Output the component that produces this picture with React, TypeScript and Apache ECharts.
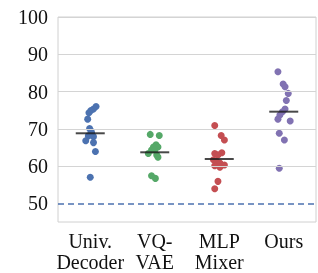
import React, { useEffect, useRef } from "react";
import * as echarts from "echarts";

const categories = ["Univ.\nDecoder", "VQ-\nVAE", "MLP\nMixer", "Ours"];
const colors = ["#4C72B0", "#55A868", "#C44E52", "#8172B2"];

// values per group and horizontal jitter (category units)
const univValues = [76.0, 75.3, 74.9, 74.3, 72.6, 70.1, 69.5, 69.0, 68.1, 67.9, 66.8, 66.3, 63.9, 57.0];
const univJitter = [0.09, 0.05, 0.01, -0.02, -0.04, -0.01, 0.01, 0.02, -0.03, 0.05, -0.07, 0.05, 0.08, 0];
const vqValues = [68.5, 68.2, 65.7, 65.1, 65.1, 64.3, 64.3, 63.4, 63.0, 62.4, 57.4, 56.7];
const vqJitter = [-0.07, 0.07, 0.02, -0.02, 0.05, -0.05, 0, -0.1, 0.03, 0.05, -0.05, 0.01];
const mlpValues = [70.9, 68.2, 67.0, 63.4, 63.6, 63.0, 61.7, 61.2, 60.8, 60.3, 60.1, 59.7, 55.9, 53.9];
const mlpJitter = [-0.07, 0.03, 0.08, -0.07, 0.04, -0.02, -0.09, -0.04, 0.01, 0.08, -0.07, 0.01, -0.02, -0.07];
const oursValues = [85.3, 82.0, 81.3, 79.5, 77.6, 75.3, 74.6, 73.7, 72.6, 72.1, 68.8, 67.0, 59.4];
const oursJitter = [-0.09, -0.01, 0.02, 0.07, 0.04, 0.02, -0.02, -0.06, -0.09, 0.1, -0.07, 0.01, -0.07];

const means = [68.8, 63.7, 61.9, 74.6];
const yTicks = [50, 60, 70, 80, 90, 100];
const gridLines = [60, 70, 80, 90, 100];
const chanceLevel = 50;

const groups = [
  { values: univValues, jitter: univJitter },
  { values: vqValues, jitter: vqJitter },
  { values: mlpValues, jitter: mlpJitter },
  { values: oursValues, jitter: oursJitter },
];

const FONT = "'Liberation Serif', 'Times New Roman', serif";

export default function App() {
  const ref = useRef<HTMLDivElement>(null);
  useEffect(() => {
    if (!ref.current) return;
    const chart = echarts.init(ref.current, undefined, { renderer: "svg" });
    const scatterSeries: any[] = groups.map((g, i) => ({
      type: "scatter",
      xAxisIndex: 1,
      symbol: "circle",
      symbolSize: 7,
      itemStyle: { color: colors[i], opacity: 1 },
      z: 3,
      data: g.values.map((v, k) => [i + g.jitter[k], v]),
    }));
    chart.setOption({
      animation: false,
      grid: {
        left: 58,
        right: 2,
        top: 17,
        bottom: 51,
        show: true,
        borderColor: "#d0d0d0",
        borderWidth: 1,
      },
      xAxis: [
        {
          type: "category",
          data: categories,
          boundaryGap: true,
          axisLine: { show: false },
          axisTick: { show: false },
          splitLine: { show: false },
          axisLabel: {
            interval: 0,
            color: "#111",
            fontFamily: FONT,
            fontSize: 20,
            lineHeight: 21,
            margin: 8,
          },
        },
        {
          type: "value",
          min: -0.5,
          max: 3.5,
          show: false,
        },
      ],
      yAxis: {
        type: "value",
        min: 45,
        max: 100,
        axisLine: { show: false },
        axisTick: { show: false },
        splitLine: { show: false },
        axisLabel: {
          customValues: yTicks,
          color: "#111",
          fontFamily: FONT,
          fontSize: 20,
          margin: 10,
        },
      },
      series: [
        {
          type: "line",
          xAxisIndex: 1,
          data: [],
          silent: true,
          markLine: {
            silent: true,
            symbol: ["none", "none"],
            label: { show: false },
            lineStyle: { color: "#d4d4d4", width: 1, type: "solid" },
            data: [
              ...gridLines.map((v) => ({ yAxis: v })),
              {
                yAxis: chanceLevel,
                lineStyle: { color: "#4C72B0", width: 1.5, type: [6, 4] },
              },
            ],
          },
          z: 1,
        },
        ...scatterSeries,
        {
          type: "scatter",
          xAxisIndex: 1,
          symbol: "rect",
          symbolSize: [29, 2],
          itemStyle: { color: "#1a1a1a" },
          z: 5,
          data: means.map((m, i) => [i, m]),
        },
      ],
    });
    return () => chart.dispose();
  }, []);
  return (
    <div
      ref={ref}
      style={{ position: "fixed", left: 0, top: 0, width: 318, height: 273 }}
    />
  );
}
